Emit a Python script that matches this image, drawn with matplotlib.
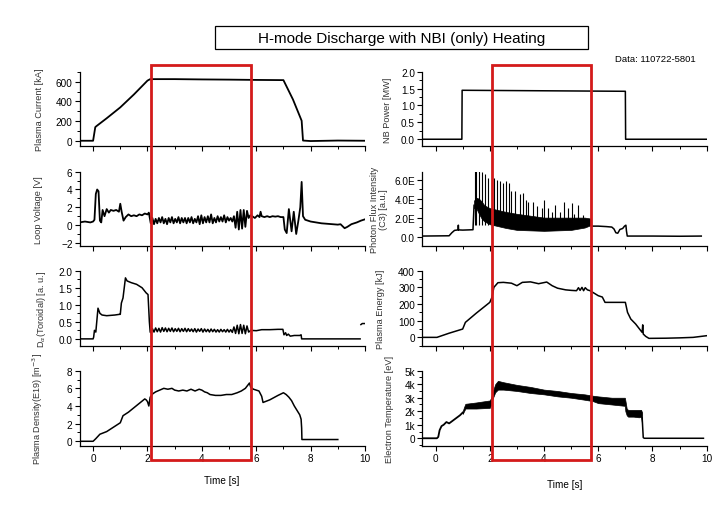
import numpy as np
import matplotlib
matplotlib.use('Agg')
import matplotlib.pyplot as plt
from matplotlib.patches import Rectangle
from matplotlib.transforms import blended_transform_factory
from matplotlib.ticker import MultipleLocator, FixedLocator, FixedFormatter

plt.rcParams['font.family'] = ['Liberation Sans', 'DejaVu Sans']

# ---------------- data ----------------
# Plasma current [kA]
ip_t = [-0.5, 0.0, 0.08, 0.12, 0.5, 1.0, 1.5, 2.0, 2.1, 3.0, 4.0, 5.0, 6.0, 7.0, 7.35, 7.67, 7.72, 8.0, 9.0, 10.0]
ip_v = [3, 3, 140, 150, 230, 340, 470, 610, 625, 625, 622, 620, 617, 615, 420, 205, 5, 0, 5, 3]

# Loop voltage [V]
lv_t_pre = [-0.5, -0.3, -0.1, 0.0, 0.05, 0.1, 0.15, 0.2, 0.25, 0.3, 0.35, 0.42, 0.5, 0.58, 0.65, 0.75,
            0.85, 0.95, 1.0, 1.05, 1.12, 1.2, 1.3, 1.4, 1.5, 1.6, 1.7, 1.8, 1.9, 2.0, 2.05]
lv_v_pre = [0.3, 0.4, 0.3, 0.4, 0.6, 3.5, 4.0, 3.8, 0.5, 0.3, 1.7, 1.0, 1.8, 1.4, 1.7, 1.6,
            1.7, 1.5, 2.4, 1.5, 0.5, 0.9, 1.2, 1.0, 1.1, 1.0, 1.2, 1.1, 1.3, 1.2, 1.4]
noisy_t = [2.12, 2.18, 2.24, 2.30, 2.36, 2.42, 2.48, 2.54, 2.60, 2.66, 2.72, 2.78, 2.84, 2.90, 2.96,
           3.02, 3.08, 3.14, 3.20, 3.26, 3.32, 3.38, 3.44, 3.50, 3.56, 3.62, 3.68, 3.74, 3.80, 3.86,
           3.92, 3.98, 4.04, 4.10, 4.16, 4.22, 4.28, 4.34, 4.40, 4.46, 4.52, 4.58, 4.64, 4.70, 4.76,
           4.82, 4.88, 4.94, 5.00, 5.06, 5.12, 5.18, 5.24, 5.30, 5.36, 5.42, 5.48, 5.54, 5.60, 5.66, 5.72]
lv_v_mid = [0.2, 0.8, 0.1, 0.7, 0.2, 0.8, 0.3, 0.9, 0.2, 0.7,
            0.1, 0.8, 0.3, 0.9, 0.2, 0.7, 0.3, 0.9, 0.2, 0.8,
            0.3, 0.8, 0.2, 0.8, 0.3, 0.9, 0.2, 0.7, 0.3, 1.0,
            0.1, 1.1, 0.2, 0.9, 0.3, 1.0, 0.3, 1.2, 0.2, 0.8,
            0.3, 1.0, 0.4, 0.9, 0.4, 1.1, 0.3, 0.9, 0.5, 0.8,
            0.4, 1.0, -0.3, 1.5, -0.5, 1.7, -0.4, 1.7, -0.2, 1.6, 0.8]
lv_t_post = [5.78, 5.85, 5.95, 6.05, 6.12, 6.16, 6.2, 6.3, 6.4, 6.5, 6.6, 6.7, 6.8, 6.9, 7.0, 7.05, 7.12,
             7.2, 7.3, 7.38, 7.47, 7.55, 7.62, 7.67, 7.72, 7.8, 7.9, 8.0, 8.2, 8.4, 8.6, 8.8, 9.0,
             9.1, 9.25, 9.35, 9.5, 9.7, 9.85, 10.0]
lv_v_post = [1.1, 1.0, 0.8, 1.1, 0.9, 1.5, 1.0, 0.9, 1.0, 0.9, 1.0, 0.95, 1.0, 0.9, 0.9, -0.5, -0.9,
             1.8, -0.7, 1.5, -1.0, 0.5, 2.0, 4.85, 1.0, 0.6, 0.5, 0.4, 0.3, 0.2, 0.15, 0.1, 0.05,
             0.1, -0.35, -0.2, 0.1, 0.3, 0.5, 0.65]

# D-alpha (toroidal) [a.u.]
da_t_pre = [-0.5, 0.0, 0.02, 0.05, 0.1, 0.18, 0.25, 0.33, 0.5, 0.8, 0.97, 1.0, 1.04, 1.1, 1.19, 1.25,
            1.4, 1.6, 1.8, 1.95, 2.02, 2.07, 2.1]
da_v_pre = [0, 0, 0.05, 0.25, 0.2, 0.9, 0.75, 0.7, 0.68, 0.7, 0.72, 0.72, 1.05, 1.2, 1.79, 1.7,
            1.65, 1.6, 1.5, 1.35, 1.3, 0.5, 0.2]
da_v_mid = [0.18, 0.30, 0.20, 0.32, 0.21, 0.31, 0.20, 0.33, 0.22, 0.32,
            0.21, 0.31, 0.22, 0.32, 0.21, 0.30, 0.22, 0.31, 0.21, 0.30,
            0.22, 0.31, 0.21, 0.30, 0.22, 0.29, 0.21, 0.30, 0.20, 0.29,
            0.22, 0.30, 0.20, 0.29, 0.21, 0.28, 0.20, 0.29, 0.21, 0.28,
            0.20, 0.27, 0.20, 0.28, 0.21, 0.27, 0.20, 0.28, 0.20, 0.27,
            0.19, 0.35, 0.16, 0.40, 0.15, 0.42, 0.16, 0.40, 0.15, 0.38, 0.20]
da_t_post = [5.8, 6.0, 6.2, 6.5, 6.8, 6.98, 7.02, 7.08, 7.12, 7.18, 7.25, 7.4, 7.6, 7.65, 7.67, 9.82]
da_v_post = [0.25, 0.24, 0.27, 0.27, 0.28, 0.28, 0.12, 0.18, 0.1, 0.14, 0.08, 0.1, 0.1, 0.12, 0.0, 0.0]
da_t_end = [9.85, 9.9, 10.0]
da_v_end = [0.42, 0.45, 0.45]

# Plasma density (E19) [m^-3]
ne_t = [-0.5, 0.0, 0.1, 0.25, 0.5, 0.75, 1.0, 1.05, 1.1, 1.3, 1.5, 1.7, 1.9, 1.95, 2.0, 2.05, 2.1,
        2.2, 2.3, 2.45, 2.6, 2.75, 2.9, 3.0, 3.15, 3.3, 3.45, 3.6, 3.75, 3.9, 4.0, 4.1, 4.2, 4.3,
        4.5, 4.7, 4.9, 5.1, 5.3, 5.45, 5.6, 5.7, 5.75, 5.8, 5.9, 6.0, 6.1, 6.2, 6.25, 6.5, 6.8,
        7.0, 7.1, 7.2, 7.3, 7.4, 7.5, 7.6, 7.65, 7.67, 7.68, 9.0]
ne_v = [0, 0, 0.3, 0.8, 1.1, 1.6, 2.1, 2.5, 2.9, 3.3, 3.8, 4.3, 4.8, 4.7, 4.5, 4.0, 5.0,
        5.4, 5.6, 5.8, 6.0, 5.9, 6.0, 5.8, 5.7, 5.8, 5.7, 5.9, 5.7, 5.9, 5.8, 5.6, 5.5, 5.3,
        5.2, 5.2, 5.3, 5.3, 5.5, 5.7, 6.0, 6.4, 6.6, 6.1, 5.9, 5.8, 5.7, 5.1, 4.4, 4.7, 5.2,
        5.5, 5.3, 5.0, 4.6, 4.0, 3.5, 3.0, 2.5, 1.5, 0.2, 0.2]

# NB power [MW]
nb_t = [-0.5, 0.97, 0.98, 3.0, 5.0, 7.0, 7.01, 10.0]
nb_v = [0, 0, 1.45, 1.44, 1.43, 1.42, 0, 0]

# Photon flux intensity (C3) [a.u.]
pf_t_pre = [-0.5, 0.5, 0.6, 0.7, 0.83, 0.84, 0.85, 1.0, 1.2, 1.38, 1.42]
pf_v_pre = [0.05, 0.08, 0.4, 0.65, 0.7, 1.2, 0.7, 0.68, 0.7, 0.72, 3.3]
band_t = [1.42, 1.5, 1.6, 1.7, 1.8, 2.0, 2.3, 2.6, 3.0, 3.5, 4.0, 4.5, 5.0, 5.5, 5.72]
band_lo = [3.0, 3.0, 2.4, 1.9, 1.6, 1.3, 1.1, 0.9, 0.7, 0.65, 0.6, 0.65, 0.7, 0.95, 1.2]
band_hi = [3.8, 4.1, 4.0, 3.7, 3.3, 3.0, 2.8, 2.6, 2.4, 2.2, 2.0, 2.0, 2.0, 2.0, 1.9]
spike_t = [1.45, 1.49, 1.61, 1.71, 1.83, 1.94, 2.07, 2.15, 2.28, 2.37, 2.5, 2.6, 2.72, 2.8, 2.93,
           3.11, 3.21, 3.33, 3.42, 3.58, 3.73, 3.91, 4.0, 4.16, 4.28, 4.4, 4.59, 4.74, 4.9, 5.02,
           5.1, 5.26, 5.42]
spike_h = [7.0, 7.0, 7.0, 6.8, 6.6, 6.2, 6.4, 6.2, 6.0, 5.9, 5.7, 5.9, 5.7, 4.8, 4.8,
           4.5, 4.6, 3.9, 3.7, 3.7, 3.2, 3.0, 3.9, 3.0, 2.6, 3.3, 2.6, 3.7, 3.0, 3.5,
           2.4, 3.3, 2.3]
pf_t_post = [5.72, 5.75, 6.0, 6.3, 6.5, 6.58, 6.65, 6.72, 6.8, 6.9, 6.97, 7.02, 7.04, 7.07, 8.0, 9.0, 9.8]
pf_v_post = [1.2, 1.1, 1.1, 1.05, 1.0, 0.8, 0.4, 0.35, 0.75, 0.85, 1.1, 1.2, 0.6, 0.05, 0.05, 0.03, 0.05]

# Plasma energy [kJ]
we_t = [-0.5, 0.05, 0.5, 1.0, 1.1, 1.5, 2.0, 2.08, 2.15, 2.3, 2.5, 2.8, 3.0, 3.2, 3.5, 3.8, 4.1,
        4.3, 4.5, 4.8, 5.0, 5.2, 5.27, 5.33, 5.4, 5.46, 5.52, 5.6, 5.7, 5.8, 6.0, 6.15, 6.25,
        6.5, 7.0, 7.08, 7.2, 7.38, 7.57, 7.62, 7.64, 7.66, 7.75, 7.87, 8.5, 9.0, 9.5, 10.0]
we_v = [0, 0, 25, 50, 90, 145, 210, 240, 300, 328, 330, 325, 310, 330, 333, 322, 332,
        310, 295, 285, 282, 280, 298, 282, 300, 280, 298, 285, 280, 270, 250, 242, 210,
        210, 210, 150, 110, 80, 40, 30, 75, 20, 6, -6, -5, -3, 0, 10]

# Electron temperature [keV]
te_t_pre = [-0.5, 0.05, 0.1, 0.15, 0.22, 0.3, 0.4, 0.5, 0.6, 0.7, 0.8, 0.9, 1.0]
te_v_pre = [0, 0, 0.1, 0.6, 0.9, 1.0, 1.2, 1.1, 1.25, 1.4, 1.55, 1.7, 1.9]
te_bt = [1.0, 1.05, 1.1, 1.5, 2.0, 2.05, 2.1, 2.2, 2.3, 2.5, 3.0, 3.5, 4.0, 4.5, 5.0, 5.5, 5.8,
         6.0, 6.5, 6.98, 7.0, 7.05, 7.1, 7.3, 7.5, 7.58, 7.62]
te_lo = [1.8, 2.0, 2.2, 2.2, 2.25, 2.5, 2.9, 3.4, 3.6, 3.6, 3.5, 3.35, 3.25, 3.1, 3.0, 2.85, 2.75,
         2.6, 2.5, 2.4, 2.0, 1.7, 1.6, 1.6, 1.55, 1.6, 1.0]
te_hi = [2.0, 2.3, 2.55, 2.65, 2.8, 3.0, 3.4, 4.0, 4.25, 4.15, 3.95, 3.8, 3.6, 3.5, 3.35, 3.25, 3.15,
         3.1, 3.0, 3.0, 2.8, 2.2, 2.1, 2.1, 2.1, 2.1, 1.9]
te_t_post = [7.62, 7.66, 7.7, 9.88]
te_v_post = [1.5, 0.05, 0.0, 0.0]

# highlighted time windows (left / right columns)
win_left = [2.12, 5.79]
win_right = [2.09, 5.73]

# ---------------- figure ----------------
fig = plt.figure(figsize=(7.22, 5.10), dpi=100)
fig.patch.set_facecolor('white')

W, H = 722.0, 510.0
rows_px = [(72.7, 147.0), (172.7, 247.0), (271.7, 346.7), (371.7, 446.7)]
colL = (79.5, 365.0)
colR = (422.0, 706.7)


def make_ax(col, row):
    x0, x1 = col
    t, b = row
    return fig.add_axes([x0 / W, 1 - b / H, (x1 - x0) / W, (b - t) / H])


LW = 1.1
TFS = 7.2
LFS = 6.6
lab_col = '#333333'


def style(ax, ylim, major, minor, bottom_labels=False):
    for s in ['top', 'right']:
        ax.spines[s].set_visible(False)
    ax.spines['left'].set_linewidth(0.9)
    ax.spines['bottom'].set_linewidth(0.9)
    ax.set_xlim(-0.5, 10)
    ax.set_ylim(*ylim)
    ax.xaxis.set_major_locator(MultipleLocator(2))
    ax.xaxis.set_minor_locator(MultipleLocator(1))
    if major is not None:
        ax.yaxis.set_major_locator(MultipleLocator(major))
        ax.yaxis.set_minor_locator(MultipleLocator(minor))
    ax.tick_params(which='major', direction='out', length=3.5, width=0.8, labelsize=TFS, pad=1.5,
                   colors='black')
    ax.tick_params(which='minor', direction='out', length=2, width=0.7)
    if not bottom_labels:
        ax.tick_params(axis='x', labelbottom=False)
    ax.set_facecolor('none')


# Left column
ax1 = make_ax(colL, rows_px[0])
ax1.plot(ip_t, ip_v, color='black', lw=1.3)
style(ax1, (-50, 700), 200, 100)
ax1.set_ylabel('Plasma Current [kA]', fontsize=LFS, color=lab_col)
ax1.yaxis.set_label_coords(-0.126, 0.5)

ax2 = make_ax(colL, rows_px[1])
ax2.plot(lv_t_pre + noisy_t + lv_t_post, lv_v_pre + lv_v_mid + lv_v_post, color='black', lw=1.3)
style(ax2, (-2.35, 6), 2, 1)
ax2.set_ylabel('Loop Voltage [V]', fontsize=LFS, color=lab_col)
ax2.yaxis.set_label_coords(-0.127, 0.5)

ax3 = make_ax(colL, rows_px[2])
ax3.plot(da_t_pre + noisy_t + da_t_post, da_v_pre + da_v_mid + da_v_post, color='black', lw=LW)
ax3.plot(da_t_end, da_v_end, color='black', lw=LW)
style(ax3, (-0.2, 2.0), 0.5, 0.25)
ax3.yaxis.set_major_formatter(matplotlib.ticker.FormatStrFormatter('%.1f'))
ax3.set_ylabel(r'D$_\alpha$(Toroidal) [a. u.]', fontsize=LFS, color=lab_col)
ax3.yaxis.set_label_coords(-0.112, 0.5)

ax4 = make_ax(colL, rows_px[3])
ax4.plot(ne_t, ne_v, color='black', lw=LW)
style(ax4, (-0.5, 8), 2, 1, bottom_labels=True)
ax4.set_ylabel(r'Plasma Density(E19) [m$^{-3}$]', fontsize=LFS, color=lab_col)
ax4.yaxis.set_label_coords(-0.121, 0.5)
ax4.set_xlabel('Time [s]', fontsize=TFS)
ax4.xaxis.set_label_coords(0.499, -0.39)

# Right column
ax5 = make_ax(colR, rows_px[0])
ax5.plot(nb_t, nb_v, color='black', lw=LW)
style(ax5, (-0.2, 2.0), 0.5, 0.25)
ax5.yaxis.set_major_formatter(matplotlib.ticker.FormatStrFormatter('%.1f'))
ax5.set_ylabel('NB Power [MW]', fontsize=LFS, color=lab_col)
ax5.yaxis.set_label_coords(-0.105, 0.5)

ax6 = make_ax(colR, rows_px[1])
ax6.plot(pf_t_pre, pf_v_pre, color='black', lw=LW)
ax6.fill_between(band_t, band_lo, band_hi, color='black', lw=0.5)
ax6.vlines(spike_t, 1.2, spike_h, color='black', lw=0.8)
ax6.plot(pf_t_post, pf_v_post, color='black', lw=LW)
style(ax6, (-1.0, 6.85), None, None)
ax6.yaxis.set_major_locator(FixedLocator([0, 2, 4, 6]))
ax6.yaxis.set_major_formatter(FixedFormatter(['0.0', '2.0E', '4.0E', '6.0E']))
ax6.yaxis.set_minor_locator(FixedLocator([1, 3, 5]))
ax6.set_ylabel('Photon Flux Intensity\n(C3) [a.u.]', fontsize=LFS, color=lab_col, linespacing=1.0)
ax6.yaxis.set_label_coords(-0.12, 0.5)

ax7 = make_ax(colR, rows_px[2])
ax7.plot(we_t, we_v, color='black', lw=LW)
style(ax7, (-50, 400), 100, 50)
ax7.set_ylabel('Plasma Energy [kJ]', fontsize=LFS, color=lab_col)
ax7.yaxis.set_label_coords(-0.13, 0.5)

ax8 = make_ax(colR, rows_px[3])
ax8.plot(te_t_pre, te_v_pre, color='black', lw=1.3)
ax8.fill_between(te_bt, te_lo, te_hi, color='black', lw=0.5)
ax8.plot(te_t_post, te_v_post, color='black', lw=LW)
style(ax8, (-0.55, 5), 1, 0.5, bottom_labels=True)
ax8.yaxis.set_major_formatter(FixedFormatter(['0', '1k', '2k', '3k', '4k', '5k']))
ax8.yaxis.set_major_locator(FixedLocator([0, 1, 2, 3, 4, 5]))
ax8.set_ylabel('Electron Temperature [eV]', fontsize=LFS, color=lab_col)
ax8.yaxis.set_label_coords(-0.10, 0.5)
ax8.set_xlabel('Time [s]', fontsize=TFS)
ax8.xaxis.set_label_coords(0.502, -0.444)

# Red highlight windows
top_f = 1 - 66 / H
bot_f = 1 - 461 / H
for ax, win in [(ax1, win_left), (ax5, win_right)]:
    tr = blended_transform_factory(ax.transData, fig.transFigure)
    rect = Rectangle((win[0], bot_f), win[1] - win[0], top_f - bot_f, transform=tr,
                     fill=False, edgecolor='#d41a1a', lw=2.0, clip_on=False, zorder=10)
    fig.add_artist(rect)

# Title box
fig.add_artist(Rectangle((215 / W, 1 - 50.3 / H), (587.7 - 215) / W, 23 / H,
                         transform=fig.transFigure, fill=False, edgecolor='black', lw=0.9))
fig.text(401.3 / W, 1 - 39.0 / H, 'H-mode Discharge with NBI (only) Heating', fontsize=11,
         ha='center', va='center')
fig.text(655.5 / W, 1 - 59.0 / H, 'Data: 110722-5801', fontsize=6.8, ha='center', va='center')

fig.savefig('out.png', dpi=100)
